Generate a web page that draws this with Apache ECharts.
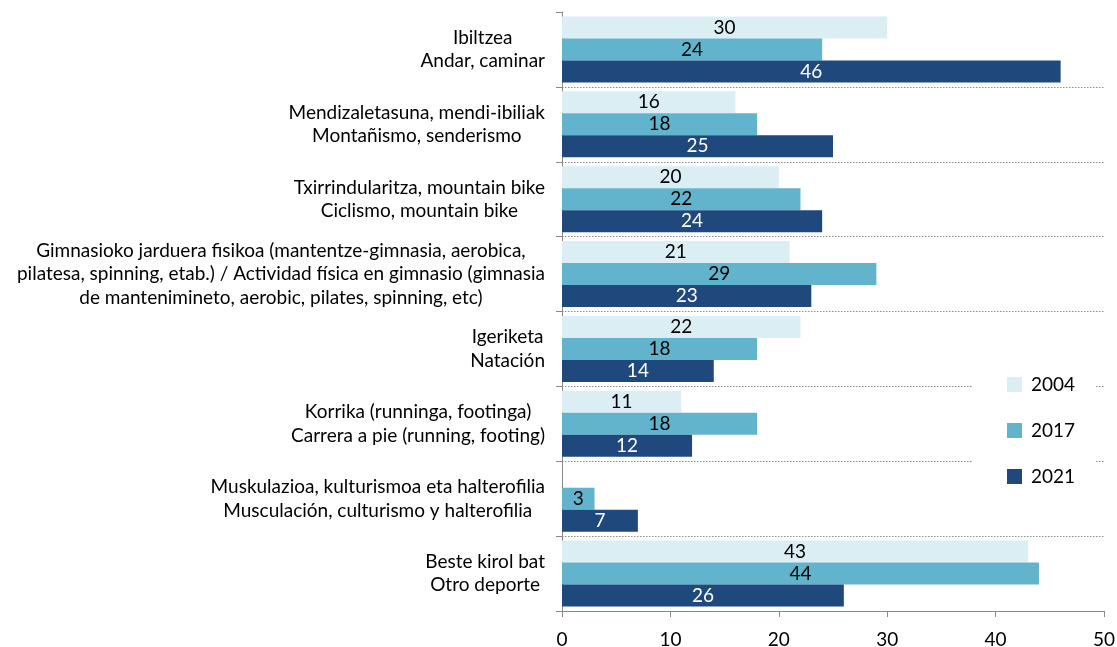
<!DOCTYPE html>
<html>
<head>
<meta charset="utf-8">
<script src="https://cdn.jsdelivr.net/npm/echarts@6/dist/echarts.min.js"></script>
<style>
  html, body { margin: 0; padding: 0; background: #fff; }
  #chart-container { width: 1117px; height: 647px; }
</style>
</head>
<body>
<div id="chart-container"></div>
<script>
var categories = [
  'Ibiltzea\nAndar, caminar',
  'Mendizaletasuna, mendi-ibiliak\nMontañismo, senderismo',
  'Txirrindularitza, mountain bike\nCiclismo, mountain bike',
  'Gimnasioko jarduera fisikoa (mantentze-gimnasia, aerobica,\npilatesa, spinning, etab.) / Actividad física en gimnasio (gimnasia\nde mantenimineto, aerobic, pilates, spinning, etc)',
  'Igeriketa\nNatación',
  'Korrika (runninga, footinga)\nCarrera a pie (running, footing)',
  'Muskulazioa, kulturismoa eta halterofilia\nMusculación, culturismo y halterofilia',
  'Beste kirol bat\nOtro deporte'
];
var years = ['2004', '2017', '2021'];
var values2004 = [30, 16, 20, 21, 22, 11, null, 43];
var values2017 = [24, 18, 22, 29, 18, 18, 3, 44];
var values2021 = [46, 25, 24, 23, 14, 12, 7, 26];

var colors = ['#DBEEF4', '#62B3CC', '#1F497D'];
var labelColors = ['#000', '#000', '#fff'];
var FONT = 'Lato';

var dom = document.getElementById('chart-container');
var myChart = echarts.init(dom, null, { renderer: 'canvas' });

function makeSeries(i, data) {
  return {
    name: years[i],
    type: 'bar',
    data: data,
    barGap: '0%',
    barCategoryGap: '12%',
    itemStyle: { color: colors[i] },
    label: {
      show: true,
      position: 'inside',
      color: labelColors[i],
      fontFamily: FONT,
      fontSize: 19
    },
    emphasis: { disabled: true }
  };
}

var option = {
  animation: false,
  textStyle: { fontFamily: FONT },
  grid: { left: 562, right: 13, top: 12, bottom: 36, containLabel: false, outerBoundsMode: 'none' },
  legend: {
    orient: 'vertical',
    left: 972,
    top: 367,
    padding: [8, 20, 8, 35],
    backgroundColor: '#fff',
    itemWidth: 15,
    itemHeight: 15,
    itemGap: 27,
    icon: 'rect',
    textStyle: { fontFamily: FONT, fontSize: 19, color: '#000', padding: [0, 0, 0, 4] },
    data: years
  },
  xAxis: {
    type: 'value',
    min: 0,
    max: 50,
    interval: 10,
    axisLine: { show: true, lineStyle: { color: '#898989' } },
    axisTick: { show: true, length: 6, lineStyle: { color: '#898989' } },
    axisLabel: { fontFamily: FONT, fontSize: 19, color: '#000', margin: 19 },
    splitLine: { show: false }
  },
  yAxis: {
    type: 'category',
    inverse: true,
    data: categories,
    axisLine: { show: true, lineStyle: { color: '#898989' } },
    axisTick: { show: true, length: 6, lineStyle: { color: '#898989' } },
    axisLabel: {
      margin: 17,
      align: 'right',
      formatter: function (v) {
        return v.split('\n').map(function (l) { return '{c|' + l + '}'; }).join('\n');
      },
      rich: {
        c: { align: 'center', fontFamily: FONT, fontSize: 19, color: '#000', lineHeight: 23.5 }
      }
    },
    splitLine: {
      show: true,
      showMinLine: false,
      lineStyle: { color: '#8c8c8c', type: [1.5, 1.5], width: 1 }
    }
  },
  series: [
    makeSeries(0, values2004),
    makeSeries(1, values2017),
    makeSeries(2, values2021)
  ]
};

myChart.setOption(option);
window.addEventListener('resize', myChart.resize);
</script>
</body>
</html>
